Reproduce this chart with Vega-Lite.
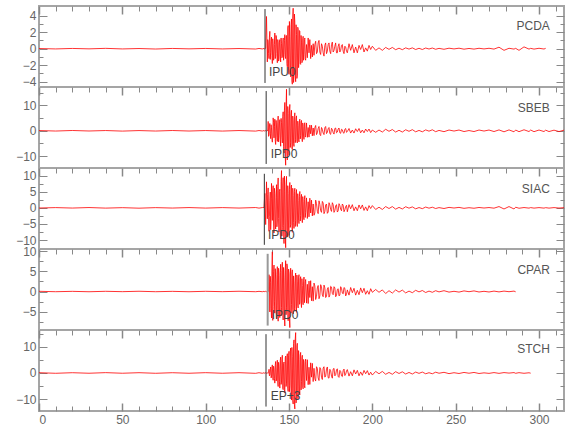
{
"$schema": "https://vega.github.io/schema/vega-lite/v6.json",
"padding": {"left": 14, "top": 4, "right": 0, "bottom": 0},
"background": "white",
"spacing": 0,
"bounds": "flush",
"config": {
  "view": {"stroke": "#a5a5a5", "strokeWidth": 2},
  "axis": {"labelFont": "Liberation Sans Narrow, Liberation Sans, sans-serif", "labelFontSize": 12, "labelColor": "#666666", "tickColor": "#888888", "domain": false, "grid": false, "title": null}
},
"datasets": {
"picks": [
{"k":"PCDA","t":135.6,"y1":4.8,"y2":-4.15,"lt":138,"ly":-2.8,"lab":"IPU0","st":306.5,"sy":2.75},
{"k":"SBEB","t":136.3,"y1":15.7,"y2":-13.1,"lt":139,"ly":-9,"lab":"IPD0","st":306.5,"sy":8.9},
{"k":"SIAC","t":135.2,"y1":10.6,"y2":-11.5,"lt":137.4,"ly":-8.3,"lab":"IPD0","st":306.5,"sy":5.9},
{"k":"CPAR","t":137.2,"y1":9.4,"y2":-8.5,"lt":139.6,"ly":-5.9,"lab":"IPD0","st":306.5,"sy":5.4},
{"k":"STCH","t":136.2,"y1":14.9,"y2":-12.9,"lt":139,"ly":-9,"lab":"EP+3","st":306.5,"sy":9.2}
],
"w": [
{"t":0,"p":0.02,"s":0.1,"i":-0.05,"c":0.05,"h":0.1},
{"t":10,"p":-0.03,"s":-0.1,"i":0.08,"c":-0.05,"h":-0.12},
{"t":20,"p":0.03,"s":0.12,"i":-0.06,"c":0.04,"h":0.1},
{"t":30,"p":-0.02,"s":-0.08,"i":0.1,"c":-0.06,"h":-0.1},
{"t":40,"p":0.04,"s":0.1,"i":-0.08,"c":0.05,"h":0.13},
{"t":50,"p":-0.03,"s":-0.12,"i":0.06,"c":-0.04,"h":-0.1},
{"t":60,"p":0.02,"s":0.09,"i":-0.1,"c":0.06,"h":0.11},
{"t":70,"p":-0.04,"s":-0.1,"i":0.07,"c":-0.05,"h":-0.12},
{"t":80,"p":0.03,"s":0.11,"i":-0.06,"c":0.04,"h":0.1},
{"t":90,"p":-0.02,"s":-0.09,"i":0.09,"c":-0.06,"h":-0.11},
{"t":100,"p":0.03,"s":0.1,"i":-0.07,"c":0.05,"h":0.12},
{"t":110,"p":-0.03,"s":-0.11,"i":0.08,"c":-0.04,"h":-0.1},
{"t":120,"p":0.02,"s":0.1,"i":-0.06,"c":0.06,"h":0.11},
{"t":130,"p":-0.04,"s":-0.12,"i":0.1,"c":-0.05,"h":-0.13},
{"t":132,"p":0.03,"s":0.1,"i":-0.08,"c":0.04,"h":0.1},
{"t":134,"p":-0.03,"s":-0.1,"i":0.09,"c":-0.05,"h":-0.12},
{"t":135,"p":0.03,"s":0.1,"i":0.1,"c":0.05,"h":0.1},
{"t":135.5,"p":-0.04,"s":-0.12,"i":4.5,"c":-0.06,"h":-0.12},
{"t":136,"p":0.05,"s":0.1,"i":-5.2,"c":0.05,"h":0.1},
{"t":136.5,"p":3.9,"s":-0.1,"i":8.1,"c":-0.05,"h":-0.1},
{"t":137,"p":-1.6,"s":0.12,"i":-3.4,"c":0.06,"h":0.12},
{"t":137.5,"p":0.8,"s":3.7,"i":6.2,"c":-0.05,"h":-0.1},
{"t":138,"p":-1.2,"s":-1.6,"i":-7.3,"c":4.2,"h":1.4},
{"t":138.5,"p":2.1,"s":2.9,"i":2.4,"c":-5.1,"h":-0.7},
{"t":139,"p":-0.5,"s":-3.1,"i":-6.8,"c":2.3,"h":2.3},
{"t":139.5,"p":1.4,"s":1.2,"i":7.6,"c":-6.6,"h":-1.6},
{"t":140,"p":-1.8,"s":-4.5,"i":-3.9,"c":9.9,"h":3.1},
{"t":140.5,"p":0.6,"s":5.1,"i":6.9,"c":-3.8,"h":-2.8},
{"t":141,"p":-1.1,"s":-2.8,"i":-7.8,"c":6.6,"h":1.6},
{"t":141.5,"p":1.9,"s":4.6,"i":4.4,"c":-5.4,"h":-3.9},
{"t":142,"p":-0.9,"s":-5.4,"i":-6.6,"c":3.1,"h":4.4},
{"t":142.5,"p":1.2,"s":1.9,"i":7.2,"c":-6.8,"h":-2.7},
{"t":143,"p":-1.7,"s":-4.2,"i":-4.1,"c":6.2,"h":4.9},
{"t":143.5,"p":0.7,"s":5.8,"i":9.3,"c":-7.4,"h":-5.2},
{"t":144,"p":-1.3,"s":-2.0,"i":-7.5,"c":4.0,"h":2.6},
{"t":144.5,"p":1.1,"s":4.4,"i":5.8,"c":-6.5,"h":-5.8},
{"t":145,"p":-1.6,"s":-6.1,"i":-9.6,"c":6.8,"h":6.1},
{"t":145.5,"p":0.6,"s":3.2,"i":11.6,"c":-4.0,"h":-3.5},
{"t":146,"p":-1.0,"s":-4.8,"i":-6.2,"c":7.3,"h":6.8},
{"t":146.5,"p":1.3,"s":7.5,"i":9.4,"c":-7.1,"h":-6.4},
{"t":147,"p":-0.7,"s":-8.8,"i":-11.1,"c":3.4,"h":4.2},
{"t":147.5,"p":1.7,"s":11.2,"i":5.0,"c":-8.6,"h":-7.7},
{"t":148,"p":-1.2,"s":-13.6,"i":-12.4,"c":7.7,"h":6.5},
{"t":148.5,"p":1.6,"s":16.4,"i":9.8,"c":-3.9,"h":-3.9},
{"t":149,"p":-2.2,"s":-11.5,"i":-9.1,"c":6.1,"h":7.4},
{"t":149.5,"p":2.8,"s":6.8,"i":4.4,"c":-7.3,"h":-7.1},
{"t":150,"p":-3.1,"s":-9.6,"i":-8.6,"c":4.6,"h":8.3},
{"t":150.5,"p":1.5,"s":10.4,"i":7.9,"c":-9.0,"h":-4.8},
{"t":151,"p":-3.4,"s":-4.7,"i":-5.2,"c":5.8,"h":9.6},
{"t":151.5,"p":3.6,"s":8.1,"i":7.1,"c":-3.2,"h":-10.4},
{"t":152,"p":-4.3,"s":-7.4,"i":-7.6,"c":5.4,"h":6.2},
{"t":152.5,"p":4.9,"s":3.9,"i":3.8,"c":-5.6,"h":-11.9},
{"t":153,"p":-2.8,"s":-6.2,"i":-6.4,"c":2.1,"h":12.7},
{"t":153.5,"p":3.2,"s":7.1,"i":6.1,"c":-4.9,"h":-13.8},
{"t":154,"p":-4.0,"s":-3.5,"i":-3.9,"c":4.6,"h":15.5},
{"t":154.5,"p":1.7,"s":5.9,"i":5.7,"c":-5.2,"h":-8.6},
{"t":155,"p":-3.2,"s":-4.8,"i":-5.8,"c":2.4,"h":11.4},
{"t":155.5,"p":2.4,"s":2.2,"i":2.3,"c":-4.1,"h":-10.1},
{"t":156,"p":-1.6,"s":-4.4,"i":-4.9,"c":4.2,"h":5.2},
{"t":156.5,"p":2.1,"s":4.6,"i":5.1,"c":-2.9,"h":-8.4},
{"t":157,"p":-1.9,"s":-1.9,"i":-2.4,"c":3.7,"h":7.9},
{"t":157.5,"p":0.8,"s":4.1,"i":4.2,"c":-4.0,"h":-3.3},
{"t":158,"p":-1.6,"s":-4.3,"i":-4.6,"c":1.5,"h":6.8},
{"t":158.5,"p":1.5,"s":1.6,"i":1.9,"c":-3.3,"h":-6.1},
{"t":159,"p":-0.7,"s":-3.4,"i":-3.7,"c":3.6,"h":3.4},
{"t":159.5,"p":1.3,"s":3.2,"i":3.8,"c":-1.1,"h":-5.7},
{"t":160,"p":-1.4,"s":-1.9,"i":-1.4,"c":3.0,"h":5.3},
{"t":160.5,"p":0.5,"s":3.1,"i":3.1,"c":-2.9,"h":-2.9},
{"t":161,"p":-1.1,"s":-2.6,"i":-3.3,"c":1.8,"h":5.1},
{"t":161.5,"p":1.3,"s":1.3,"i":1.9,"c":-3.0,"h":-4.5},
{"t":162,"p":-0.5,"s":-2.5,"i":-2.8,"c":2.6,"h":2.2},
{"t":162.5,"p":1.1,"s":2.3,"i":3.0,"c":-1.5,"h":-4.4},
{"t":163,"p":-1.2,"s":-1.2,"i":-1.6,"c":2.7,"h":3.9},
{"t":163.5,"p":0.4,"s":2.2,"i":2.4,"c":-2.3,"h":-1.6},
{"t":164,"p":-1.0,"s":-2.0,"i":-2.5,"c":1.2,"h":3.7},
{"t":164.5,"p":0.6,"s":1.1,"i":1.2,"c":-2.4,"h":-3.3},
{"t":165,"p":-0.8,"s":-1.9,"i":-2.3,"c":2.1,"h":1.8},
{"t":166,"p":0.9,"s":2.1,"i":2.4,"c":-2.0,"h":-3.1},
{"t":167,"p":-0.4,"s":-0.8,"i":-1.1,"c":0.9,"h":1.8},
{"t":168,"p":1.0,"s":1.7,"i":2.2,"c":-1.8,"h":-2.9},
{"t":169,"p":-0.7,"s":-1.9,"i":-0.9,"c":1.7,"h":1.6},
{"t":170,"p":0.3,"s":0.6,"i":2.0,"c":-0.9,"h":-2.5},
{"t":171,"p":-0.9,"s":-1.5,"i":-1.8,"c":1.6,"h":2.4},
{"t":172,"p":0.7,"s":1.7,"i":0.9,"c":-1.5,"h":-1.2},
{"t":173,"p":-0.3,"s":-0.6,"i":-1.7,"c":0.6,"h":2.3},
{"t":174,"p":0.7,"s":1.3,"i":1.6,"c":-1.4,"h":-2.0},
{"t":175,"p":-0.6,"s":-1.4,"i":-0.5,"c":1.3,"h":0.9},
{"t":176,"p":0.8,"s":0.5,"i":1.6,"c":-0.5,"h":-2.0},
{"t":177,"p":-0.2,"s":-1.3,"i":-1.4,"c":1.2,"h":1.8},
{"t":178,"p":0.7,"s":1.1,"i":0.6,"c":-1.3,"h":-0.7},
{"t":179,"p":-0.5,"s":-0.5,"i":-1.3,"c":0.5,"h":1.6},
{"t":180,"p":0.6,"s":1.1,"i":1.3,"c":-1.1,"h":-1.7},
{"t":181,"p":-0.2,"s":-1.0,"i":-0.4,"c":1.2,"h":0.6},
{"t":182,"p":0.5,"s":0.4,"i":1.2,"c":-0.4,"h":-1.4},
{"t":183,"p":-0.6,"s":-1.0,"i":-1.2,"c":1.0,"h":1.5},
{"t":184,"p":0.2,"s":0.9,"i":0.4,"c":-1.1,"h":-0.5},
{"t":185,"p":-0.5,"s":-0.3,"i":-1.2,"c":0.4,"h":1.3},
{"t":186,"p":0.6,"s":0.9,"i":1.0,"c":-0.9,"h":-1.2},
{"t":187,"p":-0.2,"s":-0.9,"i":-0.3,"c":1.0,"h":0.5},
{"t":188,"p":0.5,"s":0.3,"i":1.0,"c":-0.3,"h":-1.1},
{"t":189,"p":-0.5,"s":-0.9,"i":-0.9,"c":0.8,"h":1.2},
{"t":190,"p":0.2,"s":0.8,"i":0.3,"c":-0.9,"h":-0.4},
{"t":191,"p":-0.5,"s":-0.3,"i":-0.9,"c":0.3,"h":1.0},
{"t":192,"p":0.4,"s":0.9,"i":0.9,"c":-0.8,"h":-1.1},
{"t":193,"p":-0.1,"s":-0.8,"i":-0.3,"c":0.9,"h":0.4},
{"t":194,"p":0.5,"s":0.3,"i":0.9,"c":-0.3,"h":-0.9},
{"t":195,"p":-0.4,"s":-0.8,"i":-0.8,"c":0.8,"h":1.0},
{"t":196,"p":0.1,"s":0.7,"i":0.3,"c":-0.7,"h":-0.3},
{"t":197,"p":-0.3,"s":-0.3,"i":-0.9,"c":0.2,"h":0.9},
{"t":198,"p":0.4,"s":0.7,"i":0.7,"c":-0.7,"h":-0.8},
{"t":199,"p":-0.1,"s":-0.7,"i":-0.2,"c":0.7,"h":0.3},
{"t":200,"p":0.3,"s":0.3,"i":0.7,"c":-0.2,"h":-0.8},
{"t":202,"p":-0.2,"s":-0.6,"i":-0.5,"c":0.5,"h":0.6},
{"t":204,"p":0.1,"s":0.3,"i":0.2,"c":-0.2,"h":-0.3},
{"t":206,"p":-0.2,"s":-0.5,"i":-0.5,"c":0.4,"h":0.6},
{"t":208,"p":0.15,"s":0.6,"i":0.4,"c":-0.5,"h":-0.5},
{"t":210,"p":-0.08,"s":-0.2,"i":-0.2,"c":0.2,"h":0.2},
{"t":212,"p":0.15,"s":0.5,"i":0.4,"c":-0.4,"h":-0.5},
{"t":214,"p":-0.12,"s":-0.5,"i":-0.4,"c":0.4,"h":0.5},
{"t":216,"p":0.06,"s":0.2,"i":0.15,"c":-0.15,"h":-0.2},
{"t":218,"p":-0.12,"s":-0.5,"i":-0.35,"c":0.35,"h":0.45},
{"t":220,"p":0.1,"s":0.4,"i":0.35,"c":-0.35,"h":-0.4},
{"t":222,"p":-0.05,"s":-0.2,"i":-0.1,"c":0.1,"h":0.2},
{"t":224,"p":0.1,"s":0.45,"i":0.3,"c":-0.3,"h":-0.4},
{"t":226,"p":-0.1,"s":-0.4,"i":-0.3,"c":0.3,"h":0.35},
{"t":228,"p":0.05,"s":0.15,"i":0.1,"c":-0.1,"h":-0.15},
{"t":230,"p":-0.1,"s":-0.4,"i":-0.25,"c":0.25,"h":0.35},
{"t":232,"p":0.08,"s":0.35,"i":0.25,"c":-0.25,"h":-0.3},
{"t":234,"p":-0.04,"s":-0.15,"i":-0.1,"c":0.1,"h":0.1},
{"t":236,"p":0.08,"s":0.4,"i":0.2,"c":-0.2,"h":-0.3},
{"t":238,"p":-0.07,"s":-0.35,"i":-0.2,"c":0.2,"h":0.3},
{"t":240,"p":0.04,"s":0.15,"i":0.08,"c":-0.1,"h":-0.1},
{"t":243,"p":-0.07,"s":-0.35,"i":-0.2,"c":0.2,"h":0.25},
{"t":246,"p":0.06,"s":0.3,"i":0.15,"c":-0.15,"h":-0.25},
{"t":249,"p":-0.03,"s":-0.1,"i":-0.05,"c":0.05,"h":0.1},
{"t":252,"p":0.06,"s":0.3,"i":0.15,"c":-0.15,"h":-0.2},
{"t":255,"p":-0.06,"s":-0.3,"i":-0.15,"c":0.15,"h":0.2},
{"t":258,"p":0.03,"s":0.1,"i":0.05,"c":-0.05,"h":-0.1},
{"t":261,"p":-0.05,"s":-0.3,"i":-0.12,"c":0.15,"h":0.2},
{"t":264,"p":0.05,"s":0.3,"i":0.12,"c":-0.12,"h":-0.2},
{"t":267,"p":-0.03,"s":-0.1,"i":-0.05,"c":0.05,"h":0.05},
{"t":270,"p":0.05,"s":0.3,"i":0.1,"c":-0.12,"h":-0.15},
{"t":273,"p":-0.05,"s":-0.3,"i":-0.1,"c":0.1,"h":0.15},
{"t":276,"p":0.18,"s":0.35,"i":0.4,"c":-0.1,"h":-0.15},
{"t":279,"p":-0.2,"s":-0.4,"i":-0.35,"c":0.1,"h":0.15},
{"t":282,"p":0.05,"s":0.35,"i":0.4,"c":-0.05,"h":-0.05},
{"t":285,"p":-0.05,"s":-0.4,"i":-0.35,"c":0.1,"h":0.15},
{"t":286,"p":0.04,"s":0.3,"i":0.2,"c":-0.08,"h":-0.12},
{"t":288,"p":-0.2,"s":-0.35,"i":-0.12,"c":null,"h":0.12},
{"t":291,"p":0.22,"s":0.4,"i":0.1,"c":null,"h":-0.12},
{"t":294,"p":-0.05,"s":-0.3,"i":-0.08,"c":null,"h":0.08},
{"t":295,"p":0.04,"s":0.3,"i":0.08,"c":null,"h":-0.08},
{"t":297,"p":-0.05,"s":-0.35,"i":-0.08,"c":null,"h":null},
{"t":300,"p":0.05,"s":0.3,"i":0.08,"c":null,"h":null},
{"t":303,"p":-0.04,"s":-0.3,"i":-0.08,"c":null,"h":null},
{"t":304,"p":0.04,"s":0.25,"i":0.06,"c":null,"h":null},
{"t":306,"p":null,"s":-0.3,"i":-0.08,"c":null,"h":null},
{"t":309,"p":null,"s":0.25,"i":0.08,"c":null,"h":null},
{"t":312,"p":null,"s":-0.3,"i":-0.06,"c":null,"h":null},
{"t":315,"p":null,"s":0.25,"i":0.06,"c":null,"h":null},
{"t":137.25,"p":1.1,"s":-0.1,"i":4.2,"c":0.05,"h":-0.1},
{"t":137.75,"p":-0.6,"s":-2.2,"i":-3.1,"c":0.04,"h":0.1},
{"t":138.25,"p":1.4,"s":1.9,"i":-2.8,"c":2.6,"h":-1.1},
{"t":138.75,"p":-1.3,"s":-1.2,"i":4.9,"c":3.8,"h":1.2},
{"t":139.25,"p":0.9,"s":2.4,"i":-3.5,"c":-4.2,"h":-1.9},
{"t":139.75,"p":-0.8,"s":-3.3,"i":2.9,"c":5.1,"h":2.0},
{"t":140.25,"p":1.2,"s":-2.1,"i":5.2,"c":-7.2,"h":-1.5},
{"t":140.75,"p":-1.4,"s":3.4,"i":-4.4,"c":4.9,"h":2.6},
{"t":141.25,"p":0.5,"s":1.6,"i":6.1,"c":-2.4,"h":-2.1},
{"t":141.75,"p":-1.2,"s":-3.9,"i":-5.3,"c":5.7,"h":3.0},
{"t":142.25,"p":1.6,"s":4.1,"i":3.2,"c":-4.5,"h":-3.1},
{"t":142.75,"p":-0.6,"s":-2.6,"i":-5.9,"c":4.3,"h":2.2},
{"t":143.25,"p":1.1,"s":3.1,"i":6.7,"c":-3.6,"h":-3.8},
{"t":143.75,"p":-1.5,"s":-4.4,"i":-3.3,"c":5.8,"h":4.1},
{"t":144.25,"p":0.8,"s":2.7,"i":5.1,"c":-5.6,"h":-3.2},
{"t":144.75,"p":-0.9,"s":-3.6,"i":-7.9,"c":4.7,"h":4.8},
{"t":145.25,"p":1.3,"s":4.9,"i":8.2,"c":-6.1,"h":-4.4},
{"t":145.75,"p":-1.1,"s":-2.5,"i":-8.8,"c":5.2,"h":5.1},
{"t":146.25,"p":0.7,"s":5.6,"i":7.1,"c":-4.8,"h":-5.9},
{"t":146.75,"p":-1.4,"s":-6.3,"i":-5.6,"c":6.0,"h":3.6},
{"t":147.25,"p":1.0,"s":8.1,"i":9.9,"c":-6.6,"h":-6.3},
{"t":147.75,"p":-0.9,"s":-10.2,"i":-8.4,"c":5.3,"h":5.8},
{"t":148.25,"p":1.5,"s":9.3,"i":7.2,"c":-5.8,"h":-5.2},
{"t":148.75,"p":-1.8,"s":-8.1,"i":-6.6,"c":6.9,"h":6.1},
{"t":149.25,"p":2.5,"s":9.6,"i":6.9,"c":-5.1,"h":-5.9},
{"t":149.75,"p":-2.6,"s":-7.7,"i":-7.3,"c":5.6,"h":6.6},
{"t":150.25,"p":3.3,"s":8.2,"i":5.8,"c":-6.8,"h":-7.2},
{"t":150.75,"p":-2.4,"s":-6.6,"i":-6.1,"c":4.1,"h":8.1},
{"t":151.25,"p":2.9,"s":6.4,"i":6.6,"c":-5.4,"h":-8.7},
{"t":151.75,"p":-3.9,"s":-6.9,"i":-5.4,"c":4.6,"h":9.8},
{"t":152.25,"p":3.7,"s":5.8,"i":6.1,"c":-4.4,"h":-10.6},
{"t":152.75,"p":-4.1,"s":-5.1,"i":-4.6,"c":3.9,"h":11.3},
{"t":153.25,"p":4.2,"s":5.6,"i":5.1,"c":-4.3,"h":-12.2},
{"t":153.75,"p":-3.3,"s":-4.7,"i":-5.8,"c":3.5,"h":13.1},
{"t":154.25,"p":2.9,"s":4.9,"i":4.6,"c":-3.8,"h":-11.5},
{"t":154.75,"p":-3.6,"s":-4.1,"i":-4.9,"c":4.1,"h":10.4},
{"t":155.25,"p":2.6,"s":3.8,"i":4.4,"c":-3.4,"h":-9.7},
{"t":155.75,"p":-2.3,"s":-3.6,"i":-3.9,"c":3.6,"h":8.6},
{"t":156.25,"p":2.2,"s":3.9,"i":3.6,"c":-3.2,"h":-7.8},
{"t":156.75,"p":-1.8,"s":-3.2,"i":-4.1,"c":3.1,"h":6.9},
{"t":157.25,"p":1.6,"s":3.5,"i":3.4,"c":-2.9,"h":-6.5},
{"t":157.75,"p":-1.7,"s":-2.9,"i":-3.2,"c":3.2,"h":5.9},
{"t":158.25,"p":1.2,"s":3.1,"i":3.5,"c":-2.7,"h":-5.6},
{"t":158.75,"p":-1.4,"s":-2.4,"i":-3.1,"c":2.6,"h":5.2},
{"t":159.25,"p":1.1,"s":2.7,"i":2.6,"c":-2.8,"h":-4.8},
{"t":159.75,"p":-1.2,"s":-2.5,"i":-3.0,"c":2.4,"h":4.4},
{"t":165.5,"p":0.5,"s":1.2,"i":-1.6,"c":1.4,"h":-2.2},
{"t":166.5,"p":-0.6,"s":-1.5,"i":1.3,"c":-1.2,"h":2.4},
{"t":167.5,"p":0.7,"s":0.9,"i":-1.8,"c":1.5,"h":-1.9},
{"t":168.5,"p":-0.4,"s":-1.4,"i":1.1,"c":-1.1,"h":2.1},
{"t":169.5,"p":0.6,"s":1.3,"i":-1.4,"c":1.2,"h":-1.7},
{"t":170.5,"p":-0.5,"s":-0.9,"i":1.5,"c":-1.3,"h":1.9},
{"t":171.5,"p":0.4,"s":1.2,"i":-1.1,"c":0.9,"h":-1.6},
{"t":172.5,"p":-0.6,"s":-1.1,"i":1.2,"c":-1.2,"h":1.5},
{"t":173.5,"p":0.5,"s":0.8,"i":-1.3,"c":1.0,"h":-1.8},
{"t":174.5,"p":-0.3,"s":-1.1,"i":0.9,"c":-0.9,"h":1.4},
{"t":175.5,"p":0.5,"s":1.0,"i":-1.1,"c":1.1,"h":-1.2},
{"t":176.5,"p":-0.4,"s":-0.7,"i":1.0,"c":-0.8,"h":1.5},
{"t":177.5,"p":0.3,"s":0.9,"i":-0.8,"c":0.9,"h":-1.1},
{"t":178.5,"p":-0.5,"s":-0.8,"i":1.0,"c":-1.0,"h":1.2},
{"t":179.5,"p":0.3,"s":0.7,"i":-0.9,"c":0.7,"h":-1.3},
{"t":180.5,"p":-0.4,"s":-0.8,"i":0.7,"c":-0.9,"h":1.0},
{"t":181.5,"p":0.4,"s":0.6,"i":-0.9,"c":0.8,"h":-1.1},
{"t":182.5,"p":-0.3,"s":-0.7,"i":0.8,"c":-0.6,"h":0.9},
{"t":183.5,"p":0.3,"s":0.6,"i":-0.6,"c":0.8,"h":-1.0},
{"t":184.5,"p":-0.3,"s":-0.6,"i":0.8,"c":-0.7,"h":0.8}
]
},
"vconcat": [
{
 "width": 525, "height": 81,
 "layer": [
  {"data": {"name": "w"}, "mark": {"type": "line", "color": "#ff0000", "strokeWidth": 0.8, "clip": true},
   "encoding": {
    "x": {"field": "t", "type": "quantitative", "scale": {"domain": [0, 315], "nice": false, "zero": false},
      "axis": {"orient": "top", "values": [0,10,20,30,40,50,60,70,80,90,100,110,120,130,140,150,160,170,180,190,200,210,220,230,240,250,260,270,280,290,300,310], "labels": false, "title": null, "tickSize": {"condition": {"test": "datum.value % 50 === 0", "value": -8}, "value": -5}, "tickWidth": {"condition": {"test": "datum.value % 50 === 0", "value": 1.5}, "value": 1}}},
    "y": {"field": "p", "type": "quantitative", "scale": {"domain": [-4.64, 5.17], "nice": false, "zero": false},
      "axis": {"orient": "left", "values": [-4,-3,-2,-1,0,1,2,3,4], "title": null, "labelExpr": "datum.value % 2 === 0 ? datum.label : ''", "labelPadding": 11, "tickSize": {"condition": {"test": "datum.value % 2 === 0", "value": -8}, "value": -4}}},
    "order": {"field": "t", "type": "quantitative"}
   }},
  {"data": {"name": "picks"}, "transform": [{"filter": "datum.k === 'PCDA'"}], "mark": {"type": "rule", "color": "#333333", "strokeWidth": 1},
   "encoding": {
    "x": {"field": "t", "type": "quantitative", "axis": null},
    "y": {"field": "y1", "type": "quantitative", "axis": {"orient": "right", "values": [-4,-3,-2,-1,0,1,2,3,4], "labels": false, "title": null, "tickSize": {"condition": {"test": "datum.value % 2 === 0", "value": -8}, "value": -4}}},
    "y2": {"field": "y2"}
   }},
  {"data": {"name": "picks"}, "transform": [{"filter": "datum.k === 'PCDA'"}], "mark": {"type": "text", "align": "left", "baseline": "middle", "font": "Liberation Sans Narrow, Liberation Sans, sans-serif", "fontSize": 12, "color": "#444444"},
   "encoding": {
    "x": {"field": "lt", "type": "quantitative", "axis": null},
    "y": {"field": "ly", "type": "quantitative", "axis": null},
    "text": {"field": "lab"}
   }},
  {"data": {"name": "picks"}, "transform": [{"filter": "datum.k === 'PCDA'"}], "mark": {"type": "text", "align": "right", "baseline": "middle", "font": "Liberation Sans Narrow, Liberation Sans, sans-serif", "fontSize": 12, "color": "#555555"},
   "encoding": {
    "x": {"field": "st", "type": "quantitative", "axis": null},
    "y": {"field": "sy", "type": "quantitative", "axis": null},
    "text": {"field": "k"}
   }}
 ],
 "resolve": {"axis": {"x": "independent", "y": "independent"}}
},
{
 "width": 525, "height": 81,
 "layer": [
  {"data": {"name": "w"}, "mark": {"type": "line", "color": "#ff0000", "strokeWidth": 0.8, "clip": true},
   "encoding": {
    "x": {"field": "t", "type": "quantitative", "scale": {"domain": [0, 315], "nice": false, "zero": false},
      "axis": {"orient": "top", "values": [0,10,20,30,40,50,60,70,80,90,100,110,120,130,140,150,160,170,180,190,200,210,220,230,240,250,260,270,280,290,300,310], "labels": false, "title": null, "tickSize": {"condition": {"test": "datum.value % 50 === 0", "value": -8}, "value": -5}, "tickWidth": {"condition": {"test": "datum.value % 50 === 0", "value": 1.5}, "value": 1}}},
    "y": {"field": "s", "type": "quantitative", "scale": {"domain": [-14.7, 17.3], "nice": false, "zero": false},
      "axis": {"orient": "left", "values": [-10,-5,0,5,10,15], "title": null, "labelExpr": "datum.value % 10 === 0 ? datum.label : ''", "labelPadding": 11, "tickSize": {"condition": {"test": "datum.value % 10 === 0", "value": -8}, "value": -4}}},
    "order": {"field": "t", "type": "quantitative"}
   }},
  {"data": {"name": "picks"}, "transform": [{"filter": "datum.k === 'SBEB'"}], "mark": {"type": "rule", "color": "#333333", "strokeWidth": 1},
   "encoding": {
    "x": {"field": "t", "type": "quantitative", "axis": null},
    "y": {"field": "y1", "type": "quantitative", "axis": {"orient": "right", "values": [-10,-5,0,5,10,15], "labels": false, "title": null, "tickSize": {"condition": {"test": "datum.value % 10 === 0", "value": -8}, "value": -4}}},
    "y2": {"field": "y2"}
   }},
  {"data": {"name": "picks"}, "transform": [{"filter": "datum.k === 'SBEB'"}], "mark": {"type": "text", "align": "left", "baseline": "middle", "font": "Liberation Sans Narrow, Liberation Sans, sans-serif", "fontSize": 12, "color": "#444444"},
   "encoding": {
    "x": {"field": "lt", "type": "quantitative", "axis": null},
    "y": {"field": "ly", "type": "quantitative", "axis": null},
    "text": {"field": "lab"}
   }},
  {"data": {"name": "picks"}, "transform": [{"filter": "datum.k === 'SBEB'"}], "mark": {"type": "text", "align": "right", "baseline": "middle", "font": "Liberation Sans Narrow, Liberation Sans, sans-serif", "fontSize": 12, "color": "#555555"},
   "encoding": {
    "x": {"field": "st", "type": "quantitative", "axis": null},
    "y": {"field": "sy", "type": "quantitative", "axis": null},
    "text": {"field": "k"}
   }}
 ],
 "resolve": {"axis": {"x": "independent", "y": "independent"}}
},
{
 "width": 525, "height": 81,
 "layer": [
  {"data": {"name": "w"}, "mark": {"type": "line", "color": "#ff0000", "strokeWidth": 0.8, "clip": true},
   "encoding": {
    "x": {"field": "t", "type": "quantitative", "scale": {"domain": [0, 315], "nice": false, "zero": false},
      "axis": {"orient": "top", "values": [0,10,20,30,40,50,60,70,80,90,100,110,120,130,140,150,160,170,180,190,200,210,220,230,240,250,260,270,280,290,300,310], "labels": false, "title": null, "tickSize": {"condition": {"test": "datum.value % 50 === 0", "value": -8}, "value": -5}, "tickWidth": {"condition": {"test": "datum.value % 50 === 0", "value": 1.5}, "value": 1}}},
    "y": {"field": "i", "type": "quantitative", "scale": {"domain": [-12.8, 12.4], "nice": false, "zero": false},
      "axis": {"orient": "left", "values": [-10,-7.5,-5,-2.5,0,2.5,5,7.5,10], "title": null, "labelExpr": "datum.value % 5 === 0 ? datum.label : ''", "labelPadding": 11, "tickSize": {"condition": {"test": "datum.value % 5 === 0", "value": -8}, "value": -4}}},
    "order": {"field": "t", "type": "quantitative"}
   }},
  {"data": {"name": "picks"}, "transform": [{"filter": "datum.k === 'SIAC'"}], "mark": {"type": "rule", "color": "#333333", "strokeWidth": 1},
   "encoding": {
    "x": {"field": "t", "type": "quantitative", "axis": null},
    "y": {"field": "y1", "type": "quantitative", "axis": {"orient": "right", "values": [-10,-7.5,-5,-2.5,0,2.5,5,7.5,10], "labels": false, "title": null, "tickSize": {"condition": {"test": "datum.value % 5 === 0", "value": -8}, "value": -4}}},
    "y2": {"field": "y2"}
   }},
  {"data": {"name": "picks"}, "transform": [{"filter": "datum.k === 'SIAC'"}], "mark": {"type": "text", "align": "left", "baseline": "middle", "font": "Liberation Sans Narrow, Liberation Sans, sans-serif", "fontSize": 12, "color": "#444444"},
   "encoding": {
    "x": {"field": "lt", "type": "quantitative", "axis": null},
    "y": {"field": "ly", "type": "quantitative", "axis": null},
    "text": {"field": "lab"}
   }},
  {"data": {"name": "picks"}, "transform": [{"filter": "datum.k === 'SIAC'"}], "mark": {"type": "text", "align": "right", "baseline": "middle", "font": "Liberation Sans Narrow, Liberation Sans, sans-serif", "fontSize": 12, "color": "#555555"},
   "encoding": {
    "x": {"field": "st", "type": "quantitative", "axis": null},
    "y": {"field": "sy", "type": "quantitative", "axis": null},
    "text": {"field": "k"}
   }}
 ],
 "resolve": {"axis": {"x": "independent", "y": "independent"}}
},
{
 "width": 525, "height": 81,
 "layer": [
  {"data": {"name": "w"}, "mark": {"type": "line", "color": "#ff0000", "strokeWidth": 0.8, "clip": true},
   "encoding": {
    "x": {"field": "t", "type": "quantitative", "scale": {"domain": [0, 315], "nice": false, "zero": false},
      "axis": {"orient": "top", "values": [0,10,20,30,40,50,60,70,80,90,100,110,120,130,140,150,160,170,180,190,200,210,220,230,240,250,260,270,280,290,300,310], "labels": false, "title": null, "tickSize": {"condition": {"test": "datum.value % 50 === 0", "value": -8}, "value": -5}, "tickWidth": {"condition": {"test": "datum.value % 50 === 0", "value": 1.5}, "value": 1}}},
    "y": {"field": "c", "type": "quantitative", "scale": {"domain": [-9.6, 10.6], "nice": false, "zero": false},
      "axis": {"orient": "left", "values": [-7.5,-5,-2.5,0,2.5,5,7.5,10], "title": null, "labelExpr": "datum.value % 5 === 0 ? datum.label : ''", "labelPadding": 11, "tickSize": {"condition": {"test": "datum.value % 5 === 0", "value": -8}, "value": -4}}},
    "order": {"field": "t", "type": "quantitative"}
   }},
  {"data": {"name": "picks"}, "transform": [{"filter": "datum.k === 'CPAR'"}], "mark": {"type": "rule", "color": "#999999", "strokeWidth": 2},
   "encoding": {
    "x": {"field": "t", "type": "quantitative", "axis": null},
    "y": {"field": "y1", "type": "quantitative", "axis": {"orient": "right", "values": [-7.5,-5,-2.5,0,2.5,5,7.5,10], "labels": false, "title": null, "tickSize": {"condition": {"test": "datum.value % 5 === 0", "value": -8}, "value": -4}}},
    "y2": {"field": "y2"}
   }},
  {"data": {"name": "picks"}, "transform": [{"filter": "datum.k === 'CPAR'"}], "mark": {"type": "text", "align": "left", "baseline": "middle", "font": "Liberation Sans Narrow, Liberation Sans, sans-serif", "fontSize": 12, "color": "#444444"},
   "encoding": {
    "x": {"field": "lt", "type": "quantitative", "axis": null},
    "y": {"field": "ly", "type": "quantitative", "axis": null},
    "text": {"field": "lab"}
   }},
  {"data": {"name": "picks"}, "transform": [{"filter": "datum.k === 'CPAR'"}], "mark": {"type": "text", "align": "right", "baseline": "middle", "font": "Liberation Sans Narrow, Liberation Sans, sans-serif", "fontSize": 12, "color": "#555555"},
   "encoding": {
    "x": {"field": "st", "type": "quantitative", "axis": null},
    "y": {"field": "sy", "type": "quantitative", "axis": null},
    "text": {"field": "k"}
   }}
 ],
 "resolve": {"axis": {"x": "independent", "y": "independent"}}
},
{
 "width": 525, "height": 81,
 "layer": [
  {"data": {"name": "w"}, "mark": {"type": "line", "color": "#ff0000", "strokeWidth": 0.8, "clip": true},
   "encoding": {
    "x": {"field": "t", "type": "quantitative", "scale": {"domain": [0, 315], "nice": false, "zero": false},
      "axis": {"orient": "top", "values": [0,10,20,30,40,50,60,70,80,90,100,110,120,130,140,150,160,170,180,190,200,210,220,230,240,250,260,270,280,290,300,310], "labels": false, "title": null, "tickSize": {"condition": {"test": "datum.value % 50 === 0", "value": -8}, "value": -5}, "tickWidth": {"condition": {"test": "datum.value % 50 === 0", "value": 1.5}, "value": 1}}},
    "y": {"field": "h", "type": "quantitative", "scale": {"domain": [-14.6, 16.5], "nice": false, "zero": false},
      "axis": {"orient": "left", "values": [-10,-5,0,5,10,15], "title": null, "labelExpr": "datum.value % 10 === 0 ? datum.label : ''", "labelPadding": 11, "tickSize": {"condition": {"test": "datum.value % 10 === 0", "value": -8}, "value": -4}}},
    "order": {"field": "t", "type": "quantitative"}
   }},
  {"data": {"name": "picks"}, "transform": [{"filter": "datum.k === 'STCH'"}], "mark": {"type": "rule", "color": "#333333", "strokeWidth": 1},
   "encoding": {
    "x": {"field": "t", "type": "quantitative", "axis": null},
    "y": {"field": "y1", "type": "quantitative", "axis": {"orient": "right", "values": [-10,-5,0,5,10,15], "labels": false, "title": null, "tickSize": {"condition": {"test": "datum.value % 10 === 0", "value": -8}, "value": -4}}},
    "y2": {"field": "y2"}
   }},
  {"data": {"name": "picks"}, "transform": [{"filter": "datum.k === 'STCH'"}], "mark": {"type": "text", "align": "left", "baseline": "middle", "font": "Liberation Sans Narrow, Liberation Sans, sans-serif", "fontSize": 12, "color": "#444444"},
   "encoding": {
    "x": {"field": "lt", "type": "quantitative", "axis": null},
    "y": {"field": "ly", "type": "quantitative", "axis": null},
    "text": {"field": "lab"}
   }},
  {"data": {"name": "picks"}, "transform": [{"filter": "datum.k === 'STCH'"}], "mark": {"type": "text", "align": "right", "baseline": "middle", "font": "Liberation Sans Narrow, Liberation Sans, sans-serif", "fontSize": 12, "color": "#555555"},
   "encoding": {
    "x": {"field": "st", "type": "quantitative", "axis": {"orient": "bottom", "values": [0,10,20,30,40,50,60,70,80,90,100,110,120,130,140,150,160,170,180,190,200,210,220,230,240,250,260,270,280,290,300,310], "title": null, "labelExpr": "datum.value % 50 === 0 ? datum.label : ''", "labelPadding": 11, "tickSize": {"condition": {"test": "datum.value % 50 === 0", "value": -8}, "value": -5}, "tickWidth": {"condition": {"test": "datum.value % 50 === 0", "value": 1.5}, "value": 1}}},
    "y": {"field": "sy", "type": "quantitative", "axis": null},
    "text": {"field": "k"}
   }}
 ],
 "resolve": {"axis": {"x": "independent", "y": "independent"}}
}
]
}
